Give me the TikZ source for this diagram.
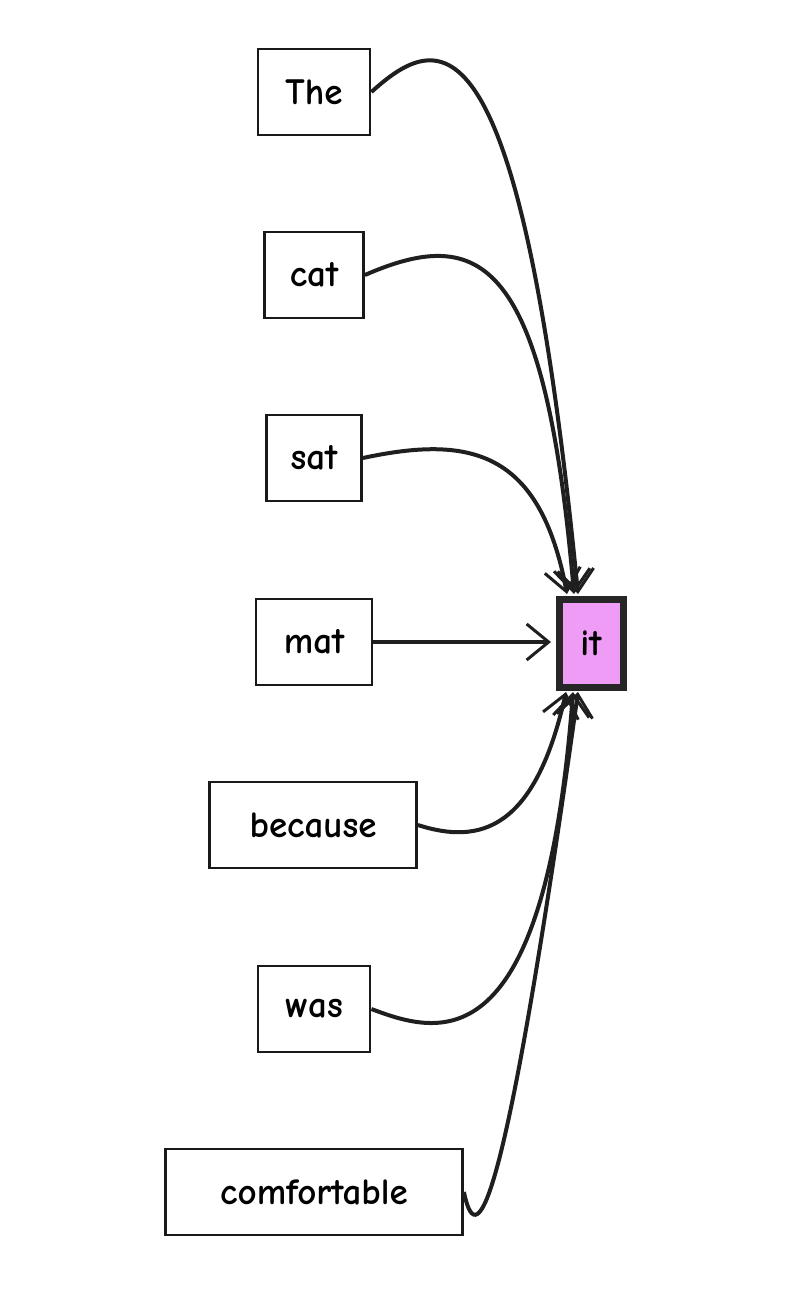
\documentclass[tikz,border=0pt]{standalone}
\usepackage{fontspec}
\setmainfont{Comic Neue}[]
\usetikzlibrary{arrows.meta}
\begin{document}
\begin{tikzpicture}[x=1pt,y=-1pt,
  word/.style={draw=black!90,line width=2.8pt,minimum height=86pt,font=\fontsize{37}{40}\selectfont\bfseries},
  link/.style={draw=black!88,line width=4pt,-{Straight Barb[length=22pt,width=36pt,line width=3pt]}}]
\useasboundingbox (0,0) rectangle (800,1309);
\node[word,minimum width=112pt] (the) at (314,92) {The};
\node[word,minimum width=99pt] (cat) at (314,275) {cat};
\node[word,minimum width=95pt] (sat) at (314,458) {sat};
\node[word,minimum width=116pt] (mat) at (314,642) {mat};
\node[word,minimum width=207pt] (because) at (313,825) {because};
\node[word,minimum width=112pt] (was) at (314,1009) {was};
\node[word,minimum width=297pt] (comf) at (314,1192) {comfortable};
\node[draw=black!85,fill={rgb,255:red,238;green,156;blue,245},line width=7pt,minimum width=64pt,minimum height=88pt,font=\fontsize{37}{40}\selectfont\bfseries] (it) at (591,643) {it};
\coordinate (t1) at (578,594);
\coordinate (t2) at (574,594);
\coordinate (t3) at (567,594);
\coordinate (t4) at (551,642);
\coordinate (b1) at (566,692);
\coordinate (b2) at (573,692);
\coordinate (b3) at (578,692);
\draw[link] (the.east) .. controls (440,30) and (520,0) .. (t1);
\draw[link] (cat.east) .. controls (480,225) and (545,255) .. (t2);
\draw[link] (sat.east) .. controls (470,435) and (540,450) .. (t3);
\draw[link] (mat.east) -- (t4);
\draw[link] (because.east) .. controls (480,845) and (535,830) .. (b1);
\draw[link] (was.east) .. controls (440,1035) and (545,1065) .. (b2);
\draw[link] (comf.east) .. controls (475,1245) and (500,1250) .. (b3);
\end{tikzpicture}
\end{document}
